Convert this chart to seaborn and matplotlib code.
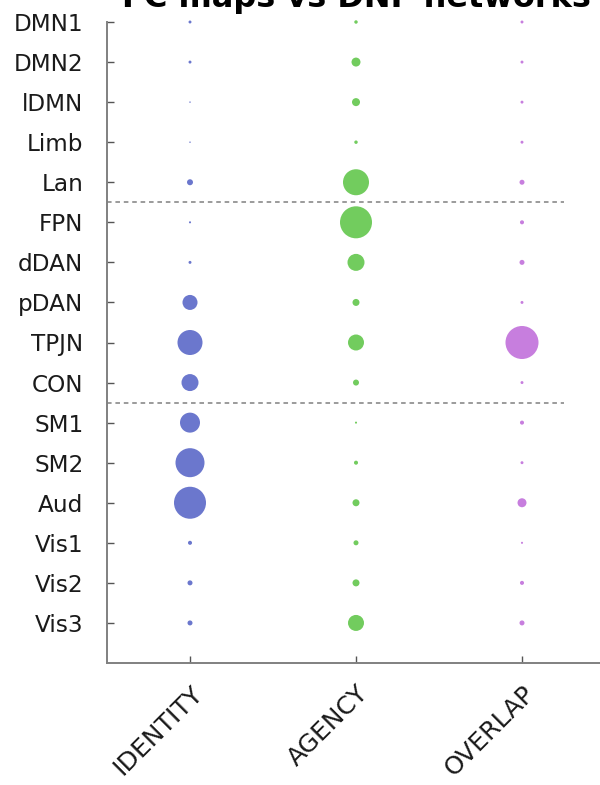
import numpy as np
import pandas as pd
import matplotlib
matplotlib.use("Agg")
import matplotlib.pyplot as plt
import seaborn as sns

# Networks (top to bottom) and map types
networks = ["DMN1", "DMN2", "lDMN", "Limb", "Lan", "FPN", "dDAN", "pDAN",
            "TPJN", "CON", "SM1", "SM2", "Aud", "Vis1", "Vis2", "Vis3"]
conditions = ["IDENTITY", "AGENCY", "OVERLAP"]

# Relative overlap scores (marker area is proportional to the score)
identity = [0.008, 0.008, 0.002, 0.002, 0.033, 0.004, 0.008, 0.207,
            0.574, 0.265, 0.367, 0.772, 0.940, 0.015, 0.023, 0.023]
agency = [0.011, 0.074, 0.059, 0.011, 0.621, 0.940, 0.265, 0.045,
          0.235, 0.033, 0.004, 0.015, 0.045, 0.023, 0.045, 0.235]
overlap = [0.008, 0.008, 0.008, 0.008, 0.023, 0.015, 0.023, 0.008,
           1.000, 0.008, 0.015, 0.008, 0.074, 0.004, 0.015, 0.023]

colors = {"IDENTITY": "#6B77CD", "AGENCY": "#72CC5E", "OVERLAP": "#C77EDE"}

rows = []
for cond, vals in zip(conditions, [identity, agency, overlap]):
    for i, (net, v) in enumerate(zip(networks, vals)):
        rows.append({"network": net, "net_idx": i, "condition": cond,
                     "cond_idx": conditions.index(cond), "score": v})
df = pd.DataFrame(rows)

sns.set_theme(style="white")
plt.rcParams["font.family"] = ["DejaVu Sans"]

fig = plt.figure(figsize=(6.0, 7.85), dpi=100)
ax = fig.add_axes([107 / 600, 1 - 663 / 785, 498 / 600, (663 - 22) / 785])

sns.scatterplot(data=df, x="cond_idx", y="net_idx", hue="condition",
                palette=colors, size="score", sizes=(0, 565),
                size_norm=(0, 1), linewidth=0, legend=False, ax=ax,
                clip_on=False, zorder=3)

ax.hlines([4.5, 9.5], xmin=-0.5, xmax=2.25, colors="#808080",
          linestyles=(0, (3, 2.5)), linewidth=1.1, zorder=2)

ax.set_xlim(-0.5, 2.5)
ax.set_ylim(16, 0)
ax.set_yticks(range(len(networks)))
ax.set_yticklabels(networks, fontsize=16.7, color="#1a1a1a")
ax.set_xticks(range(len(conditions)))
ax.set_xticklabels(conditions, fontsize=18, rotation=45, ha="right",
                   va="top", rotation_mode="anchor", color="#1a1a1a")
ax.set_xlabel("")
ax.set_ylabel("")

for side in ["top", "right"]:
    ax.spines[side].set_visible(False)
for side in ["left", "bottom"]:
    ax.spines[side].set_color("#808080")
    ax.spines[side].set_linewidth(1.4)

ax.tick_params(axis="both", direction="in", length=5, width=1,
               color="#555555", left=True, bottom=True)
ax.tick_params(axis="y", pad=17)
ax.tick_params(axis="x", pad=13)

fig.text(356 / 600, 1 - 7 / 785, "FC maps vs DNF networks", ha="center",
         va="baseline", fontsize=23, fontweight="bold", color="black")

fig.savefig("out.png", dpi=100)
